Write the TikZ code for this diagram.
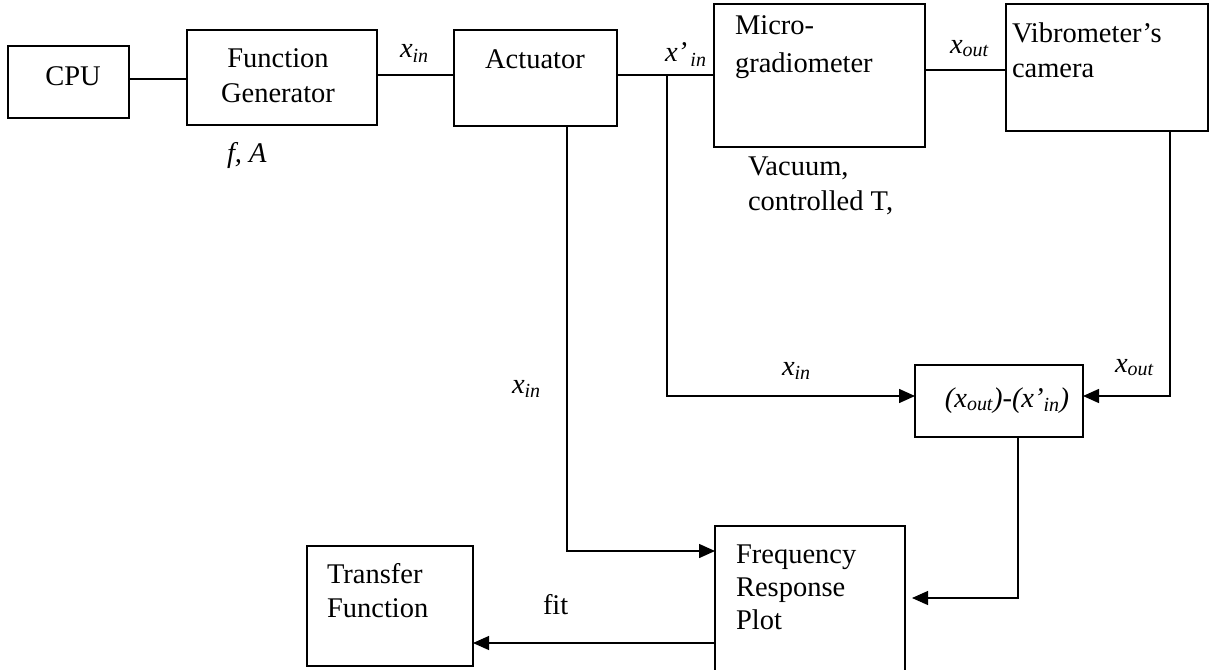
\documentclass[tikz,border=0pt]{standalone}
\usepackage{fontspec}
\setmainfont{Liberation Serif}
\usetikzlibrary{arrows.meta}
\newcommand\xsub[2]{\textit{#1}\textsubscript{\textit{#2}}}
\begin{document}
\begin{tikzpicture}[x=1pt,y=-1pt,
  every node/.style={font=\fontsize{28.5}{34}\selectfont, inner sep=0pt, outer sep=0pt},
  box/.style={draw, line width=1.7pt, inner sep=0pt},
  thinbox/.style={draw, line width=1.2pt, inner sep=0pt},
  conn/.style={line width=1.5pt},
  thinconn/.style={line width=1.2pt},
  arr/.style={-{Triangle[length=16pt,width=14pt]}},
  txt/.style={anchor=base west, align=left}]
\useasboundingbox (0,0) rectangle (1209,669);

% boxes
\node[box, minimum width=121pt, minimum height=72pt] (cpu) at (68.5,82) {};
\node[box, minimum width=190pt, minimum height=95pt] (fg) at (282,77.5) {};
\node[box, minimum width=163pt, minimum height=96pt] (act) at (535.5,78) {};
\node[box, minimum width=211pt, minimum height=143pt] (micro) at (819.5,75.5) {};
\node[box, minimum width=202pt, minimum height=127pt] (vib) at (1107,67.5) {};
\node[box, minimum width=168pt, minimum height=72pt] (diff) at (999,401) {};
\node[thinbox, minimum width=190pt, minimum height=150pt] (frp) at (810,601) {};
\node[thinbox, minimum width=166pt, minimum height=120pt] (tf) at (390,606) {};

% box texts
\node[anchor=base] (cputxt) at (73,85) {CPU};
\node[anchor=base] (fgtxt1) at (278,67) {Function};
\node[anchor=base] (fgtxt2) at (278,102) {Generator};
\node[anchor=base] (acttxt) at (535,68) {Actuator};
\node[txt] (microtxt) at (735,35) {\begin{tabular}[t]{@{}l@{}}Micro-\\[3pt]gradiometer\end{tabular}};
\node[txt] (vibtxt) at (1012,43) {\begin{tabular}[t]{@{}l@{}}Vibrometer’s\\[1pt]camera\end{tabular}};
\node[anchor=base] (difftxt) at (1007,407) {\textit{(x\textsubscript{out})-(x’\textsubscript{in})}};
\node[txt] (frptxt) at (736,563) {\begin{tabular}[t]{@{}l@{}}Frequency\\[-1pt]Response\\[-1pt]Plot\end{tabular}};
\node[txt] (tftxt) at (327,583) {\begin{tabular}[t]{@{}l@{}}Transfer\\Function\end{tabular}};

% free labels
\node[txt] (fA) at (227,162) {\textit{f, A}};
\node[txt] (vac) at (748,175) {\begin{tabular}[t]{@{}l@{}}Vacuum,\\[1pt]controlled T,\end{tabular}};
\node[txt] (lxin1) at (400,58) {\xsub{x}{in}};
\node[txt] (lxpin) at (665,62) {\textit{x’}\textsubscript{\,\textit{in}}};
\node[txt] (lxout1) at (950,53) {\xsub{x}{out}};
\node[txt] (lxin2) at (782,375) {\xsub{x}{in}};
\node[txt] (lxout2) at (1115,372) {\xsub{x}{out}};
\node[txt] (lxin3) at (512,393) {\xsub{x}{in}};
\node[txt] (lfit) at (543,614) {fit};

% connector coordinates
\coordinate (br) at (667,75);
\coordinate (brdown) at (667,396);
\coordinate (actdown) at (567,551);
\coordinate (vibdown) at (1170,396);
\coordinate (diffdown) at (1018,598);

% connectors
\draw[conn] (cpu.east |- 0,79) -- (fg.west |- 0,79);
\draw[conn] (fg.east |- 0,75) -- (act.west |- 0,75);
\draw[conn] (act.east |- 0,75) -- (micro.west |- 0,75);
\draw[conn] (micro.east |- 0,70) -- (vib.west |- 0,70);
\draw[conn, arr] (br) -- (brdown) -- (diff.west |- brdown);
\draw[conn, arr] (vib.south -| vibdown) -- (vibdown) -- (diff.east |- vibdown);
\draw[conn, arr] (act.south -| actdown) -- (actdown) -- (frp.west |- actdown);
\draw[thinconn, arr, shorten >=7pt] (diff.south -| diffdown) -- (diffdown) -- (frp.east |- diffdown);
\draw[thinconn, arr] (frp.west |- 0,643) -- (tf.east |- 0,643);
\end{tikzpicture}
\end{document}
